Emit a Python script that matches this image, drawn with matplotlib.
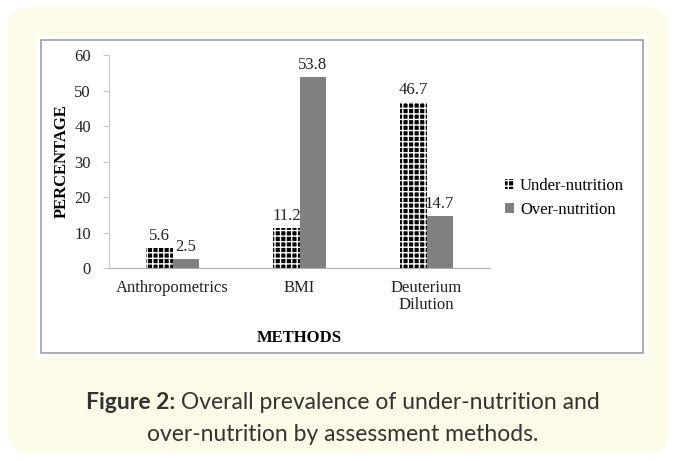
import matplotlib
matplotlib.use("Agg")
import matplotlib.pyplot as plt
from matplotlib.patches import FancyBboxPatch, Rectangle
import numpy as np

methods = ["Anthropometrics", "BMI", "Deuterium\nDilution"]
under_nutrition = [5.6, 11.2, 46.7]
over_nutrition = [2.5, 53.8, 14.7]
series_names = ["Under-nutrition", "Over-nutrition"]
y_ticks = [0, 10, 20, 30, 40, 50, 60]

plt.rcParams["hatch.linewidth"] = 1.0
serif = "Liberation Serif"
fs = 12

fig = plt.figure(figsize=(6.74, 4.61), dpi=100)
W, H = 674, 461

# cream rounded card, white panel with the chart
fig.patches.append(FancyBboxPatch((8 / W, 8 / H), 660 / W, 446 / H,
                                  boxstyle="round,pad=0,rounding_size=0.04",
                                  transform=fig.transFigure, facecolor="#fefae8",
                                  edgecolor="none", zorder=-3))
fig.patches.append(Rectangle((36 / W, (H - 357) / H), 612 / W, 322 / H,
                             transform=fig.transFigure, facecolor="white",
                             edgecolor="none", zorder=-2))
fig.patches.append(Rectangle((41 / W, (H - 353) / H), 602 / W, 313 / H,
                             transform=fig.transFigure, facecolor="none",
                             edgecolor="#a0a0a0", linewidth=1.2, zorder=-1))

ax = fig.add_axes([109 / W, (H - 268) / H, 381 / W, 213 / H])
ax.set_facecolor("none")
ax.set_zorder(5)

x = np.arange(len(methods)) + 0.5
w = 0.205
b1 = ax.bar(x - w / 2, under_nutrition, w, color="black", edgecolor="white",
            hatch="+++", linewidth=0, label=series_names[0])
b2 = ax.bar(x + w / 2, over_nutrition, w, color="#808080", linewidth=0,
            label=series_names[1])

for rect, v in zip(b1, under_nutrition):
    ax.text(rect.get_x() + rect.get_width() / 2, v + 1.2, f"{v}", ha="center",
            va="bottom", family=serif, fontsize=fs, color="#222222")
for rect, v in zip(b2, over_nutrition):
    ax.text(rect.get_x() + rect.get_width() / 2, v + 1.2, f"{v}", ha="center",
            va="bottom", family=serif, fontsize=fs, color="#222222")

ax.set_xlim(0, 3)
ax.set_ylim(0, 60)
ax.set_yticks(y_ticks)
ax.set_xticks(x)
ax.set_xticklabels(methods, family=serif, fontsize=fs, color="#222222",
                   linespacing=1.05)
for lab in ax.get_yticklabels():
    lab.set_family(serif)
    lab.set_fontsize(fs)
    lab.set_color("#222222")
ax.tick_params(axis="x", length=0, pad=9)
ax.tick_params(axis="y", length=4, color="#c8c8c8", pad=9)
for s in ["top", "right"]:
    ax.spines[s].set_visible(False)
ax.spines["left"].set_color("#c8c8c8")
ax.spines["bottom"].set_color("#b0b0b0")

ax.set_ylabel("PERCENTAGE", family=serif, fontweight="bold", fontsize=fs,
              labelpad=3)
ax.set_xlabel("METHODS", family=serif, fontweight="bold", fontsize=fs,
              labelpad=12)

ax.legend(loc="center left", bbox_to_anchor=(1.0, 0.33), frameon=False,
          prop={"family": serif, "size": 12}, handlelength=0.55,
          handleheight=0.55, handletextpad=0.35, labelspacing=0.5)

# caption: bold label plus regular text, centred together
cap_font = "Lato"
cap_size = 16.5
renderer = fig.canvas.get_renderer()
t1 = fig.text(0, 0, "Figure 2:", fontsize=cap_size, fontweight="bold", family=cap_font,
              color="#333333")
t2 = fig.text(0, 0, " Overall prevalence of under-nutrition and", fontsize=cap_size,
              family=cap_font, color="#333333")
w1 = t1.get_window_extent(renderer).width
w2 = t2.get_window_extent(renderer).width
x0 = (343 - (w1 + w2) / 2)
y1 = (H - 402) / H
t1.set_position((x0 / W, y1))
t1.set_va("center")
t2.set_position(((x0 + w1) / W, y1))
t2.set_va("center")
fig.text(343 / W, (H - 434) / H, "over-nutrition by assessment methods.",
         fontsize=cap_size, family=cap_font, color="#333333", ha="center", va="center")

fig.savefig("out.png", dpi=100)
